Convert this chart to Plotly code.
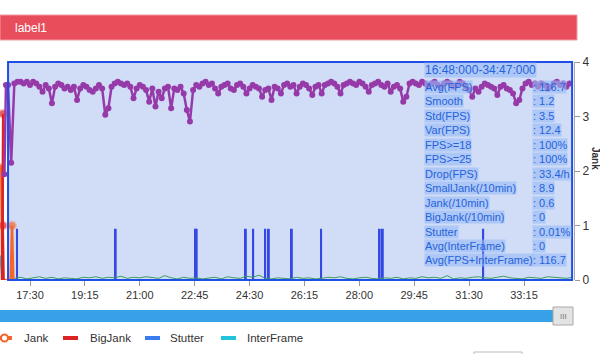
import plotly.graph_objects as go

# ---------------- data ----------------
x_tick_labels = ["17:30", "19:15", "21:00", "22:45", "24:30", "26:15", "28:00", "29:45", "31:30", "33:15"]
y_tick_vals = [0, 1, 2, 3, 4]
window_start = "16:48"
window_end = "34:47"
header_label = "label1"
title_range = "16:48:000-34:47:000"

fps_start = 1008
fps_step = 6
fps_values = [
    118, 71, 119, 120, 120, 119, 120, 118, 120, 119,
    117, 114, 118, 116, 107, 117, 119, 118, 116, 117,
    115, 117, 109, 116, 118, 117, 115, 114, 116, 118,
    116, 100, 104, 117, 119, 120, 119, 118, 119, 117,
    110, 116, 118, 117, 115, 108, 116, 105, 114, 110,
    116, 117, 104, 116, 115, 117, 113, 103, 96, 115,
    118, 117, 119, 120, 118, 119, 116, 113, 117, 118,
    119, 116, 115, 118, 119, 117, 113, 116, 118, 117,
    116, 111, 115, 116, 109, 117, 116, 113, 118, 119,
    117, 118, 113, 117, 119, 118, 116, 112, 117, 118,
    113, 118, 119, 120, 119, 117, 113, 118, 119, 120,
    119, 118, 120, 119, 117, 114, 118, 119, 120, 118,
    117, 119, 114, 117, 118, 116, 108, 111, 119, 120,
    119, 118, 120, 119, 117, 119, 120, 118, 117, 119,
    120, 119, 117, 118, 120, 119, 117, 115, 111, 116,
    114, 117, 119, 118, 117, 116, 112, 117, 118, 116,
    115, 113, 107, 109, 116, 119, 120, 118, 119, 117,
    119, 118, 116, 117, 119, 120, 118, 119, 117, 119,
]
fps_lead_times = [1001, 1004]
fps_lead_values = [64, 118]

frame_start = 1020
frame_step = 12
frame_values = [
    0.03, 0.05, 0.02, 0.04, 0.06, 0.03, 0.05, 0.02, 0.04, 0.03,
    0.02, 0.05, 0.04, 0.06, 0.03, 0.05, 0.04, 0.07, 0.03, 0.05,
    0.04, 0.06, 0.05, 0.03, 0.08, 0.04, 0.02, 0.05, 0.03, 0.04,
    0.02, 0.03, 0.05, 0.02, 0.06, 0.04, 0.03, 0.07, 0.05, 0.09,
    0.03, 0.02, 0.04, 0.03, 0.02, 0.05, 0.03, 0.04, 0.02, 0.03,
    0.05, 0.04, 0.06, 0.03, 0.02, 0.04, 0.05, 0.03, 0.02, 0.04,
    0.03, 0.05, 0.02, 0.04, 0.03, 0.06, 0.04, 0.05, 0.03, 0.08,
    0.02, 0.04, 0.03, 0.05, 0.06, 0.04, 0.03, 0.05, 0.07, 0.04,
    0.03, 0.02, 0.05, 0.04, 0.03, 0.06, 0.05, 0.04, 0.03, 0.05,
]

stutter_times = [1025, 1214, 1366, 1369, 1463, 1477, 1500, 1507, 1551, 1607, 1719, 1725, 1917]
stutter_values = [0.94] * 13

jank_times = [993, 995, 997, 1013, 1015.6, 1018]
jank_values = [2.05, 2.05, 0, 0, 1.0, 0]

bigjank_times = [996, 998.3, 998.3, 1000]
bigjank_values = [0, 3.05, 1.0, 0]

interframe_times = [993, 995, 997]
interframe_values = [0.45, 0.25, 0]

legend_names = ["Jank", "BigJank", "Stutter", "InterFrame"]

stat_labels = ["Avg(FPS)", "Smooth", "Std(FPS)", "Var(FPS)", "FPS>=18", "FPS>=25", "Drop(FPS)",
               "SmallJank(/10min)", "Jank(/10min)", "BigJank(/10min)", "Stutter",
               "Avg(InterFrame)", "Avg(FPS+InterFrame)"]
stat_values = ["116.7", "1.2", "3.5", "12.4", "100%", "100%", "33.4/h", "8.9", "0.6", "0",
               "0.01%", "0", "116.7"]

# ---------------- helpers ----------------
def to_sec(s):
    m, sec = s.split(":")
    return int(m) * 60 + int(sec)

W, H = 600, 354
ML, MR, MT, MB = 0, 26, 62, 74
PW, PH = W - ML - MR, H - MT - MB

def px(x):
    return (x - ML) / PW

def py(y):
    return (H - MB - y) / PH

FONT = "Liberation Sans, Arial, sans-serif"
C_FPS = "#973aa9"
C_JANK = "#f4662c"
C_BIG = "#dd2222"
C_STUT = "#3a7cf0"
C_INTER = "#22c3dc"
C_SPIKE = "rgb(36,56,226)"
C_GREEN = "#3b9e5c"

fps_times = [fps_start + fps_step * i for i in range(len(fps_values))]
frame_times = [frame_start + frame_step * i for i in range(len(frame_values))]
tick_vals = [to_sec(t) for t in x_tick_labels]
x0_data, x1_data = to_sec(window_start), to_sec(window_end)

# pixel calibration for the time axis
sec_per_px = (tick_vals[-1] - tick_vals[0]) / (524 - 30)
x_range = [tick_vals[0] - 30 * sec_per_px, tick_vals[0] + (PW - 30) * sec_per_px]

fig = go.Figure()

fig.add_trace(go.Scatter(x=frame_times, y=frame_values, mode="lines",
                         line=dict(color=C_GREEN, width=1), showlegend=False, yaxis="y"))
fig.add_trace(go.Bar(x=stutter_times, y=stutter_values, width=3.5, marker=dict(color=C_SPIKE, line_width=0),
                     opacity=0.9, showlegend=False, yaxis="y"))
fig.add_trace(go.Scatter(x=interframe_times, y=interframe_values, mode="lines",
                         line=dict(color=C_INTER, width=2), showlegend=False, yaxis="y"))
fig.add_trace(go.Scatter(x=jank_times, y=jank_values, mode="lines+markers",
                         line=dict(color=C_JANK, width=2.5),
                         marker=dict(size=[7 if v > 0 else 0 for v in jank_values], color=C_JANK,
                                     line=dict(color="rgba(244,102,44,0.35)", width=3)),
                         showlegend=False, yaxis="y"))
fig.add_trace(go.Scatter(x=bigjank_times, y=bigjank_values, mode="lines+markers",
                         line=dict(color=C_BIG, width=2),
                         marker=dict(size=[7 if v > 0 else 0 for v in bigjank_values], color=C_BIG,
                                     line=dict(color="rgba(221,34,34,0.35)", width=3)),
                         showlegend=False, yaxis="y"))
fig.add_trace(go.Scatter(x=fps_lead_times + fps_times, y=fps_lead_values + fps_values,
                         mode="lines+markers", line=dict(color=C_FPS, width=2.5),
                         marker=dict(size=6, color=C_FPS), showlegend=False, yaxis="y2"))

shapes = []
# header bar
shapes.append(dict(type="rect", xref="paper", yref="paper", x0=px(0), x1=px(577), y0=py(40), y1=py(15),
                   fillcolor="#e84d5b", line=dict(color="#f29aa2", width=1), layer="above"))
# plot panel
shapes.append(dict(type="rect", xref="x", yref="paper", x0=x0_data, x1=x1_data, y0=0, y1=1,
                   fillcolor="#d1ddf6", line=dict(width=0), layer="below"))
shapes.append(dict(type="rect", xref="x", yref="paper", x0=x0_data, x1=x1_data, y0=0, y1=1,
                   fillcolor="rgba(0,0,0,0)", line=dict(color="#1f4fe6", width=2), layer="above"))
# slider
shapes.append(dict(type="rect", xref="paper", yref="paper", x0=px(0), x1=px(573), y0=py(322), y1=py(310),
                   fillcolor="#36a1e8", line=dict(width=0)))
shapes.append(dict(type="rect", xref="paper", yref="paper", x0=px(553), x1=px(573), y0=py(325), y1=py(307),
                   fillcolor="#e3e3e3", line=dict(color="#a9a9a9", width=1)))
# bottom button
shapes.append(dict(type="rect", xref="paper", yref="paper", x0=px(474), x1=px(522), y0=py(362), y1=py(352),
                   fillcolor="white", line=dict(color="#bbbbbb", width=1)))

annotations = []
annotations.append(dict(x=px(13), y=py(28), xref="paper", yref="paper", text=header_label, showarrow=False,
                        xanchor="left", yanchor="middle", font=dict(family=FONT, size=12, color="white")))
annotations.append(dict(x=px(563), y=py(316), xref="paper", yref="paper", text="III", showarrow=False,
                        xanchor="center", yanchor="middle", font=dict(family=FONT, size=8, color="#777777")))
annotations.append(dict(x=px(596), y=py(158), xref="paper", yref="paper", text="<b>Jank</b>", showarrow=False,
                        textangle=90, xanchor="center", yanchor="middle",
                        font=dict(family=FONT, size=10, color="#333333")))

# legend (custom, partly cut at the left edge like the reference)
legend_items = [
    (legend_names[0], C_JANK, -4, 12, 22),
    (legend_names[1], C_BIG, 63, 78, 88),
    (legend_names[2], C_STUT, 145, 160, 168),
    (legend_names[3], C_INTER, 221, 236, 245),
]
ly = 338
for name, col, a, b, tx in legend_items:
    shapes.append(dict(type="line", xref="paper", yref="paper", x0=px(a), x1=px(b), y0=py(ly), y1=py(ly),
                       line=dict(color=col, width=4)))
    annotations.append(dict(x=px(tx), y=py(ly), xref="paper", yref="paper", text=name, showarrow=False,
                            xanchor="left", yanchor="middle", font=dict(family=FONT, size=11.5, color="#333333")))
shapes.append(dict(type="circle", xref="paper", yref="paper", x0=px(1), x1=px(8), y0=py(ly + 3.5), y1=py(ly - 3.5),
                   fillcolor="white", line=dict(color=C_JANK, width=2)))

# stats block
HL = "rgba(150,186,246,0.62)"
TXT = "#2663db"
annotations.append(dict(x=px(424), y=py(70), xref="paper", yref="paper", text=title_range, showarrow=False,
                        xanchor="left", yanchor="middle", bgcolor=HL, borderpad=0,
                        font=dict(family=FONT, size=12, color=TXT)))
for k, (lab, val) in enumerate(zip(stat_labels, stat_values)):
    yy = 87 + 14.45 * k
    annotations.append(dict(x=px(424), y=py(yy), xref="paper", yref="paper", text=lab, showarrow=False,
                            xanchor="left", yanchor="middle", bgcolor=HL, borderpad=0,
                            font=dict(family=FONT, size=11, color=TXT)))
    annotations.append(dict(x=px(532), y=py(yy), xref="paper", yref="paper", text=": " + val, showarrow=False,
                            xanchor="left", yanchor="middle", bgcolor=HL, borderpad=0,
                            font=dict(family=FONT, size=11, color=TXT)))

fig.update_layout(
    width=W, height=H,
    margin=dict(l=ML, r=MR, t=MT, b=MB),
    paper_bgcolor="white", plot_bgcolor="white",
    barmode="overlay",
    showlegend=False,
    xaxis=dict(range=x_range, tickvals=tick_vals, ticktext=x_tick_labels, ticks="outside", ticklen=5,
               tickcolor="#999999", showgrid=False, zeroline=False, showline=False,
               tickfont=dict(family=FONT, size=11, color="#333333")),
    yaxis=dict(side="right", range=[0, 4], tickvals=y_tick_vals, ticks="outside", ticklen=5,
               tickcolor="#999999", showline=True, linecolor="#aaaaaa", linewidth=1,
               showgrid=False, zeroline=False, tickfont=dict(family=FONT, size=12, color="#333333")),
    yaxis2=dict(overlaying="y", range=[0, 132], visible=False),
    shapes=shapes,
    annotations=annotations,
)

fig.write_html("out.html")
